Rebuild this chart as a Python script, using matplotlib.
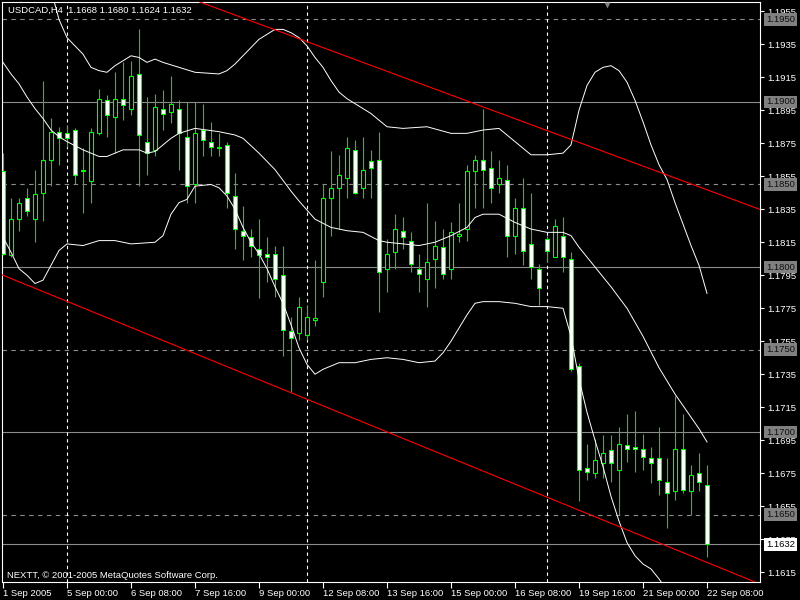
import numpy as np
import matplotlib
matplotlib.use('Agg')
import matplotlib.pyplot as plt
import matplotlib.transforms as mtransforms

plt.rcParams['font.family'] = ['Liberation Sans', 'DejaVu Sans']

# H4 candles, USDCAD 1 Sep 2005 16:00 .. 22 Sep 2005 08:00
opens = [1.1858, 1.1807, 1.1829, 1.1842, 1.1829, 1.1845, 1.1865, 1.1882, 1.1881, 1.1883,
         1.1859, 1.1852, 1.1881, 1.1901, 1.1891, 1.1902, 1.1896, 1.1917, 1.1876, 1.1871,
         1.1896, 1.1894, 1.1896, 1.1879, 1.1850, 1.1883, 1.1876, 1.1873, 1.1874, 1.1843,
         1.1822, 1.1818, 1.1811, 1.1808, 1.1808, 1.1795, 1.1761, 1.1760, 1.1759, 1.1768,
         1.1791, 1.1842, 1.1848, 1.1854, 1.1871, 1.1848, 1.1864, 1.1865, 1.1799, 1.1809,
         1.1822, 1.1816, 1.1799, 1.1793, 1.1805, 1.1812, 1.1799, 1.1819, 1.1823, 1.1858,
         1.1865, 1.1860, 1.1850, 1.1853, 1.1819, 1.1836, 1.1814, 1.1799, 1.1817, 1.1806,
         1.1819, 1.1805, 1.1740, 1.1678, 1.1675, 1.1681, 1.1689, 1.1677, 1.1692, 1.1691,
         1.1690, 1.1684, 1.1684, 1.1670, 1.1664, 1.1690, 1.1664, 1.1675, 1.1668]
highs = [1.1869, 1.1842, 1.1842, 1.1848, 1.1859, 1.1913, 1.1890, 1.1885, 1.1886, 1.1884,
         1.1872, 1.1884, 1.1908, 1.1904, 1.1918, 1.1924, 1.1925, 1.1944, 1.1903, 1.1905,
         1.1907, 1.1916, 1.1901, 1.1900, 1.1900, 1.1899, 1.1888, 1.1881, 1.1876, 1.1857,
         1.1837, 1.1823, 1.1829, 1.1818, 1.1813, 1.1813, 1.1770, 1.1782, 1.1777, 1.1804,
         1.1850, 1.1870, 1.1868, 1.1879, 1.1877, 1.1879, 1.1871, 1.1882, 1.1817, 1.1832,
         1.1830, 1.1821, 1.1808, 1.1839, 1.1828, 1.1823, 1.1827, 1.1839, 1.1862, 1.1868,
         1.1896, 1.1870, 1.1865, 1.1862, 1.1842, 1.1854, 1.1845, 1.1802, 1.1819, 1.1829,
         1.1830, 1.1809, 1.1742, 1.1693, 1.1696, 1.1698, 1.1698, 1.1703, 1.1711, 1.1713,
         1.1699, 1.1691, 1.1703, 1.1684, 1.1722, 1.1711, 1.1680, 1.1687, 1.1680]
lows = [1.1807, 1.1806, 1.1822, 1.1831, 1.1815, 1.1828, 1.1849, 1.1862, 1.1873, 1.1850,
        1.1833, 1.1839, 1.1880, 1.1879, 1.1869, 1.1889, 1.1892, 1.1849, 1.1856, 1.1867,
        1.1883, 1.1887, 1.1859, 1.1839, 1.1839, 1.1867, 1.1867, 1.1867, 1.1836, 1.1811,
        1.1804, 1.1806, 1.1781, 1.1791, 1.1782, 1.1746, 1.1724, 1.1756, 1.1756, 1.1764,
        1.1782, 1.1819, 1.1823, 1.1842, 1.1844, 1.1842, 1.1842, 1.1773, 1.1785, 1.1799,
        1.1811, 1.1797, 1.1785, 1.1776, 1.1787, 1.1793, 1.1793, 1.1815, 1.1816, 1.1836,
        1.1836, 1.1839, 1.1845, 1.1806, 1.1808, 1.1801, 1.1793, 1.1777, 1.1803, 1.1806,
        1.1797, 1.1737, 1.1658, 1.1671, 1.1672, 1.1672, 1.1670, 1.1650, 1.1682, 1.1676,
        1.1677, 1.1669, 1.1662, 1.1642, 1.1659, 1.1663, 1.1650, 1.1664, 1.1624]
closes = [1.1808, 1.1829, 1.1839, 1.1834, 1.1844, 1.1865, 1.1882, 1.1878, 1.1878, 1.1856,
          1.1858, 1.1882, 1.1902, 1.1892, 1.1902, 1.1898, 1.1916, 1.1880, 1.1869, 1.1897,
          1.1893, 1.1899, 1.1881, 1.1849, 1.1881, 1.1877, 1.1873, 1.1872, 1.1845, 1.1823,
          1.1819, 1.1813, 1.1807, 1.1806, 1.1793, 1.1762, 1.1757, 1.1776, 1.1770, 1.1769,
          1.1842, 1.1848, 1.1856, 1.1872, 1.1845, 1.1859, 1.1860, 1.1797, 1.1808, 1.1823,
          1.1818, 1.1802, 1.1796, 1.1803, 1.1813, 1.1796, 1.1821, 1.1820, 1.1858, 1.1865,
          1.1859, 1.1848, 1.1854, 1.1819, 1.1836, 1.1810, 1.1800, 1.1787, 1.1810, 1.1825,
          1.1806, 1.1738, 1.1677, 1.1676, 1.1683, 1.1687, 1.1681, 1.1693, 1.1690, 1.1690,
          1.1685, 1.1681, 1.1671, 1.1663, 1.1690, 1.1665, 1.1674, 1.1670, 1.1632]

# Bollinger bands (bar index, price)
upper_x = [6, 7, 8, 9, 10, 11, 12, 13, 14, 15, 16, 17, 18, 19, 20, 22, 24, 27, 28, 29,
           30, 31, 32, 33, 34, 35, 36, 37, 38, 39, 40, 41, 42, 43, 44, 46, 47, 48, 50, 53,
           56, 58, 60, 62, 64, 66, 68, 70, 71, 72, 73, 74, 75, 76, 77, 78, 79, 80, 81, 82,
           83, 84, 85, 86, 87, 88]
upper = [1.1968, 1.1950, 1.1939, 1.1934, 1.1929, 1.1921, 1.1919, 1.1918, 1.1922, 1.1925,
         1.1928, 1.1927, 1.1924, 1.1926, 1.1924, 1.1921, 1.1918, 1.1917, 1.1919, 1.1923,
         1.1928, 1.1933, 1.1938, 1.1941, 1.1944, 1.1944, 1.1942, 1.1939, 1.1934, 1.1927,
         1.1921, 1.1913, 1.1906, 1.1902, 1.1899, 1.1893, 1.1889, 1.1885, 1.1884, 1.1885,
         1.1881, 1.1881, 1.1883, 1.1884, 1.1876, 1.1868, 1.1868, 1.1869, 1.1874, 1.1895,
         1.1910, 1.1918, 1.1921, 1.1922, 1.1919, 1.1912, 1.1901, 1.1888, 1.1874, 1.1862,
         1.1853, 1.1839, 1.1826, 1.1813, 1.1801, 1.1784]
middle_x = [0, 1, 2, 3, 4, 5, 6, 7, 8, 10, 12, 13, 15, 17, 18, 19, 20, 21, 22, 24,
            27, 29, 30, 32, 34, 36, 37, 39, 41, 43, 45, 47, 48, 50, 52, 54, 56, 58, 59, 60,
            62, 64, 66, 68, 70, 71, 72, 74, 76, 78, 80, 82, 84, 86, 87, 88]
middle = [1.1924, 1.1917, 1.1911, 1.1903, 1.1896, 1.1890, 1.1883, 1.1879, 1.1876, 1.1871,
          1.1867, 1.1867, 1.1871, 1.1871, 1.1869, 1.1870, 1.1874, 1.1878, 1.1881, 1.1884,
          1.1882, 1.1880, 1.1878, 1.1869, 1.1859, 1.1846, 1.1840, 1.1829, 1.1824, 1.1822,
          1.1821, 1.1816, 1.1815, 1.1814, 1.1813, 1.1815, 1.1819, 1.1824, 1.1830, 1.1832,
          1.1832, 1.1827, 1.1823, 1.1821, 1.1821, 1.1819, 1.1812, 1.1800, 1.1788, 1.1775,
          1.1758, 1.1739, 1.1723, 1.1709, 1.1702, 1.1694]
lower_x = [0, 1, 2, 3, 4, 5, 6, 7, 8, 10, 12, 14, 16, 19, 20, 21, 22, 23, 24, 26,
           27, 28, 29, 30, 31, 32, 33, 34, 35, 36, 37, 38, 39, 40, 41, 42, 44, 46, 48, 50,
           52, 54, 55, 56, 57, 58, 59, 60, 62, 64, 66, 68, 70, 71, 72, 73, 74, 75, 76, 77,
           78, 79, 80, 81, 82, 83, 84]
lower = [1.1818, 1.1809, 1.1799, 1.1795, 1.1790, 1.1792, 1.1801, 1.1810, 1.1814, 1.1813,
         1.1816, 1.1816, 1.1814, 1.1815, 1.1819, 1.1832, 1.1839, 1.1841, 1.1849, 1.1850,
         1.1848, 1.1843, 1.1835, 1.1824, 1.1815, 1.1808, 1.1799, 1.1788, 1.1778, 1.1765,
         1.1751, 1.1741, 1.1735, 1.1738, 1.1740, 1.1742, 1.1742, 1.1744, 1.1745, 1.1744,
         1.1742, 1.1743, 1.1748, 1.1755, 1.1763, 1.1771, 1.1778, 1.1779, 1.1779, 1.1778,
         1.1776, 1.1776, 1.1775, 1.1758, 1.1732, 1.1712, 1.1695, 1.1679, 1.1661, 1.1646,
         1.1633, 1.1625, 1.1620, 1.1617, 1.1611, 1.1604, 1.1598]

# trend lines (bar, price) pairs
upper_trend = [(50, 1.1915), (94, 1.1836)]
lower_trend = [(0, 1.1795), (90, 1.1617)]

solid_levels = [1.1900, 1.1800, 1.1700]
dashed_levels = [1.1950, 1.1850, 1.1750, 1.1650]
bid = 1.1632
separators = [8, 38, 68]
shift_bar = 75.5

xtick_pos = [0, 8, 16, 24, 32, 40, 48, 56, 64, 72, 80, 88]
xtick_labels = ['1 Sep 2005', '5 Sep 00:00', '6 Sep 08:00', '7 Sep 16:00', '9 Sep 00:00',
                '12 Sep 08:00', '13 Sep 16:00', '15 Sep 00:00', '16 Sep 08:00',
                '19 Sep 16:00', '21 Sep 00:00', '22 Sep 08:00']
ytick_vals = [1.1955, 1.1935, 1.1915, 1.1895, 1.1875, 1.1855, 1.1835, 1.1815, 1.1795,
              1.1775, 1.1755, 1.1735, 1.1715, 1.1695, 1.1675, 1.1655, 1.1635, 1.1615]

fs = 6.8
fig = plt.figure(figsize=(8, 6), dpi=100, facecolor='black')
ax = fig.add_axes([2 / 800, 18 / 600, 758 / 800, 580 / 600], facecolor='black')

# horizontal levels
for lv in solid_levels:
    ax.axhline(lv, color='#8c8c8c', lw=0.8, zorder=1)
for lv in dashed_levels:
    ax.axhline(lv, color='#8c8c8c', lw=0.8, ls=(0, (4, 4)), zorder=1)
ax.axhline(bid, color='#8c8c8c', lw=0.8, zorder=1)

# period separators
for s in separators:
    ax.axvline(s, color='white', lw=0.8, ls=(0, (3, 3)), zorder=1)

# candles
x = np.arange(len(opens))
o = np.array(opens)
c = np.array(closes)
ax.vlines(x, lows, highs, color='#00e000', lw=0.8, zorder=2)
fills = ['white' if cc < oo else 'black' for oo, cc in zip(o, c)]
ax.bar(x, np.abs(c - o), bottom=np.minimum(o, c), width=0.55, color=fills,
       edgecolor='#00ff00', linewidth=0.8, zorder=3)

# bollinger bands
ax.plot(upper_x, upper, color='white', lw=0.7, zorder=4)
ax.plot(middle_x, middle, color='white', lw=0.7, zorder=4)
ax.plot(lower_x, lower, color='white', lw=0.7, zorder=4)

# channel lines
ax.axline(upper_trend[0], upper_trend[1], color='#ff0000', lw=0.8, zorder=4)
ax.axline(lower_trend[0], lower_trend[1], color='#ff0000', lw=0.8, zorder=4)

# chart shift marker at the top
top_trans = mtransforms.blended_transform_factory(ax.transData, ax.transAxes)
ax.plot([shift_bar], [0.994], marker='v', ms=5, color='#808080', mec='none',
        transform=top_trans, clip_on=False, zorder=5)

ax.set_xlim(-0.125, 94.625)
ax.set_ylim(1.16091, 1.19606)

ax.yaxis.tick_right()
ax.set_yticks(ytick_vals)
ax.set_yticklabels(['%.4f' % v for v in ytick_vals])
ax.set_xticks(xtick_pos)
ax.set_xticklabels(xtick_labels, ha='left')
ax.tick_params(axis='y', colors='white', labelcolor='white', labelsize=fs,
               length=3, width=0.8, pad=2)
ax.tick_params(axis='x', colors='white', labelcolor='white', labelsize=fs,
               length=4, width=0.8, pad=1)
for sp in ax.spines.values():
    sp.set_color('white')
    sp.set_linewidth(0.8)

# price labels on the right axis
trans = mtransforms.blended_transform_factory(ax.transAxes, ax.transData)
for lv in solid_levels + dashed_levels:
    ax.text(1.008, lv, '%.4f' % lv, transform=trans, fontsize=fs, color='#101010',
            va='center', ha='left', clip_on=False, zorder=6,
            bbox=dict(boxstyle='square,pad=0.2', fc='#808080', ec='none'))
ax.text(1.008, bid, '%.4f' % bid, transform=trans, fontsize=fs, color='black',
        va='center', ha='left', clip_on=False, zorder=6,
        bbox=dict(boxstyle='square,pad=0.2', fc='white', ec='none'))

fig.text(8 / 800, 1 - 10 / 600, 'USDCAD,H4  1.1668 1.1680 1.1624 1.1632', color='white',
         fontsize=fs, va='center', ha='left')
fig.text(7 / 800, 1 - 575 / 600, 'NEXTT, \u00a9 2001-2005 MetaQuotes Software Corp.',
         color='white', fontsize=fs, va='center', ha='left')

fig.savefig('out.png', dpi=100, facecolor='black')
